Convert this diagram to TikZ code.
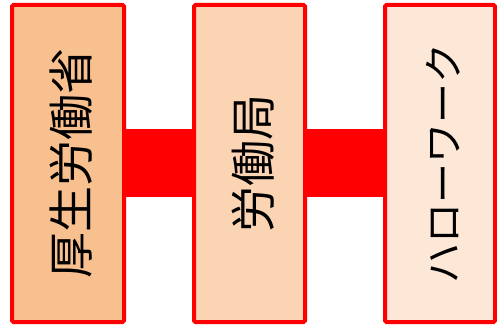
\documentclass[tikz,border=0pt]{standalone}
\usepackage{fontspec}
\newfontfamily\jpfont{Noto Sans CJK JP}
\definecolor{fillA}{HTML}{F9C08F}
\definecolor{fillB}{HTML}{FBD4B4}
\definecolor{fillC}{HTML}{FDE8D8}
\definecolor{bordred}{HTML}{FF0000}
\begin{document}
\begin{tikzpicture}[x=1pt,y=-1pt,
  orgbox/.style={draw=bordred,line width=4pt,rounded corners=1.5pt},
  orglabel/.style={rotate=90,font=\jpfont,inner sep=0pt},
  link/.style={fill=bordred,draw=none}]
\useasboundingbox (0,0) rectangle (497,328);
\fill[link] (120,129) rectangle (200,197);
\fill[link] (300,129) rectangle (390,197);
\node[orgbox,fill=fillA,minimum width=112pt,minimum height=317pt,inner sep=0pt] (a) at (68,163.5) {};
\node[orgbox,fill=fillB,minimum width=111pt,minimum height=317pt,inner sep=0pt] (b) at (249.5,163.5) {};
\node[orgbox,fill=fillC,minimum width=110pt,minimum height=317pt,inner sep=0pt] (c) at (440,163.5) {};
\node[orglabel,font=\jpfont\fontsize{46}{50}\selectfont] (ta) at (71.5,163.5) {厚生労働省};
\node[orglabel,font=\jpfont\fontsize{46}{50}\selectfont] (tb) at (253.5,163.5) {労働局};
\node[orglabel,font=\jpfont\fontsize{40}{44}\selectfont] (tc) at (443,163.5) {ハローワーク};
\end{tikzpicture}
\end{document}
